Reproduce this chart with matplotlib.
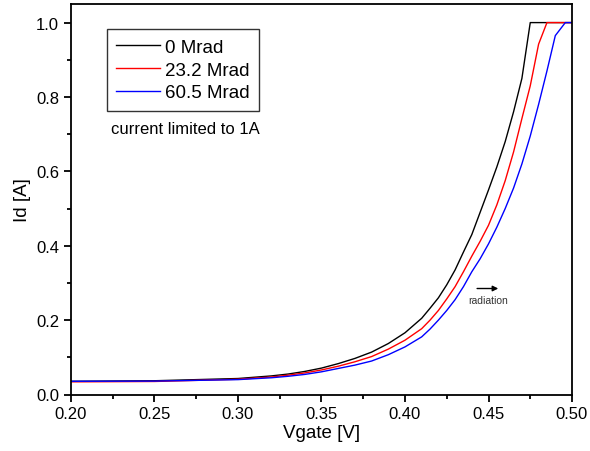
import matplotlib
matplotlib.use("Agg")
import matplotlib.pyplot as plt
from matplotlib.ticker import MultipleLocator

plt.rcParams["font.family"] = ["Liberation Sans", "DejaVu Sans"]

# gate voltage [V] and drain current [A]
v_0 = [0.20, 0.25, 0.30, 0.32, 0.33, 0.34, 0.35, 0.36, 0.37, 0.38, 0.39,
       0.40, 0.41, 0.415, 0.42, 0.425, 0.43, 0.435, 0.44, 0.445, 0.45,
       0.455, 0.46, 0.465, 0.47, 0.475, 0.50]
id_0 = [0.0355, 0.037, 0.043, 0.050, 0.055, 0.062, 0.071, 0.083, 0.097,
        0.114, 0.137, 0.166, 0.205, 0.232, 0.26, 0.295, 0.335, 0.383, 0.43,
        0.49, 0.55, 0.612, 0.68, 0.76, 0.85, 1.0, 1.0]

v_23 = [0.20, 0.25, 0.30, 0.32, 0.33, 0.34, 0.35, 0.36, 0.37, 0.38, 0.39,
        0.40, 0.41, 0.415, 0.42, 0.425, 0.43, 0.435, 0.44, 0.445, 0.45,
        0.455, 0.46, 0.465, 0.47, 0.475, 0.48, 0.485, 0.50]
id_23 = [0.034, 0.035, 0.041, 0.047, 0.052, 0.058, 0.066, 0.076, 0.088,
         0.102, 0.122, 0.146, 0.177, 0.200, 0.226, 0.257, 0.29, 0.33, 0.372,
         0.412, 0.455, 0.51, 0.575, 0.652, 0.742, 0.83, 0.942, 1.0, 1.0]

v_60 = [0.20, 0.25, 0.30, 0.32, 0.33, 0.34, 0.35, 0.36, 0.37, 0.38, 0.39,
        0.40, 0.41, 0.415, 0.42, 0.425, 0.43, 0.435, 0.44, 0.445, 0.45,
        0.455, 0.46, 0.465, 0.47, 0.475, 0.48, 0.485, 0.49, 0.496, 0.50]
id_60 = [0.0355, 0.036, 0.040, 0.045, 0.049, 0.054, 0.061, 0.070, 0.079,
         0.090, 0.107, 0.128, 0.155, 0.176, 0.20, 0.226, 0.255, 0.29, 0.33,
         0.365, 0.405, 0.45, 0.50, 0.555, 0.62, 0.695, 0.78, 0.87, 0.965,
         1.0, 1.0]

fig = plt.figure(figsize=(5.9, 4.52), dpi=100)
ax = fig.add_axes([71 / 590, 1 - 395.5 / 452, 501 / 590, 390.5 / 452])

ax.plot(v_0, id_0, color="black", lw=1.0, label="0 Mrad")
ax.plot(v_23, id_23, color="red", lw=1.0, label="23.2 Mrad")
ax.plot(v_60, id_60, color="blue", lw=1.0, label="60.5 Mrad")

ax.set_xlim(0.20, 0.50)
ax.set_ylim(0.0, 1.05)
ax.xaxis.set_major_locator(MultipleLocator(0.05))
ax.xaxis.set_minor_locator(MultipleLocator(0.025))
ax.yaxis.set_major_locator(MultipleLocator(0.2))
ax.yaxis.set_minor_locator(MultipleLocator(0.1))
ax.xaxis.set_major_formatter(plt.FormatStrFormatter("%.2f"))
ax.yaxis.set_major_formatter(plt.FormatStrFormatter("%.1f"))
ax.tick_params(which="both", direction="out", width=1.3, labelsize=12)
ax.tick_params(which="major", length=5)
ax.tick_params(which="minor", length=3)
for s in ax.spines.values():
    s.set_linewidth(1.3)

ax.set_xlabel("Vgate [V]", fontsize=13.5, labelpad=2)
ax.set_ylabel("Id [A]", fontsize=13.5, labelpad=4)

leg = ax.legend(loc="upper left", bbox_to_anchor=(0.072, 0.935), fontsize=13.5,
                frameon=True, fancybox=False, handlelength=2.3,
                handletextpad=0.3, labelspacing=0.3, borderpad=0.5,
                borderaxespad=0)
leg.get_frame().set_edgecolor("black")
leg.get_frame().set_linewidth(1.0)

ax.text(0.228, 0.68, "current limited to 1A", transform=ax.transAxes,
        fontsize=12, ha="center", va="center")

ax.annotate("", xy=(0.4575, 0.285), xytext=(0.4415, 0.285),
            arrowprops=dict(arrowstyle="-|>", color="black", lw=1.0,
                            mutation_scale=8))
ax.text(0.4495, 0.255, "radiation", fontsize=7.5, ha="center", va="center",
        color="#333333")

fig.savefig("out.png", dpi=100)
